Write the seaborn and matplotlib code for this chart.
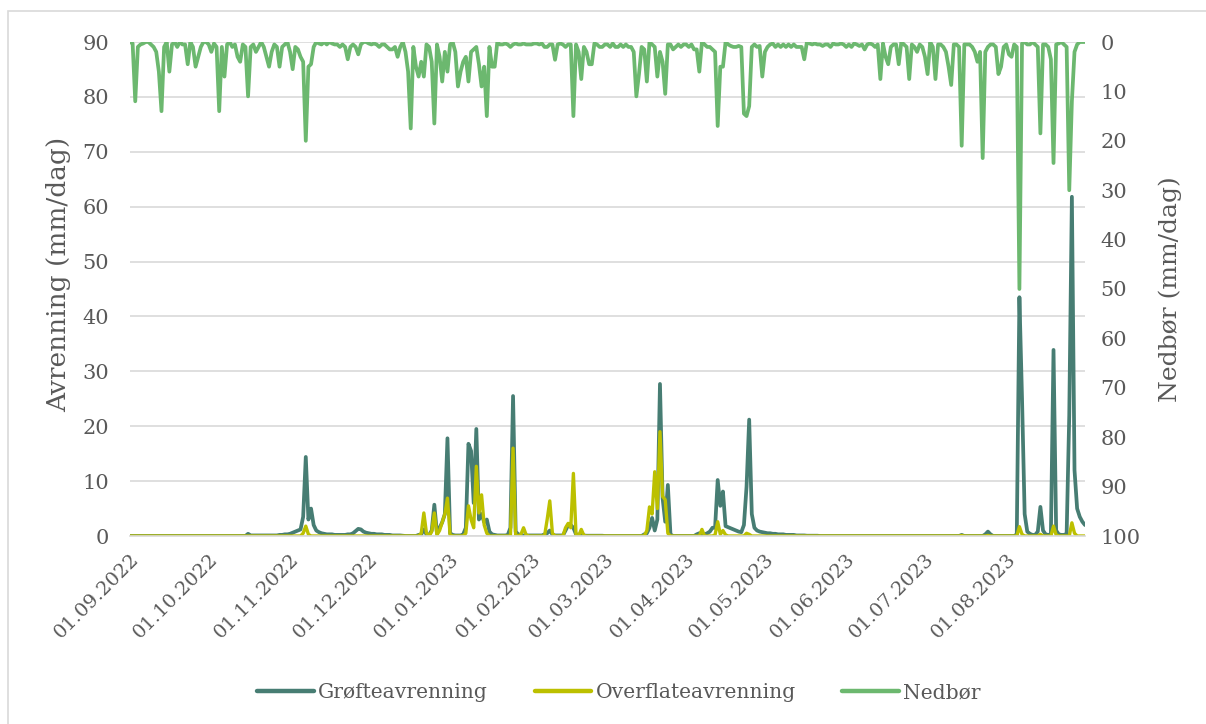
import matplotlib
matplotlib.use("Agg")
import matplotlib.pyplot as plt
import matplotlib.dates as mdates
from matplotlib.lines import Line2D
from matplotlib.patches import Rectangle
import seaborn as sns
import pandas as pd

# ---------------- data (daily values) ----------------
start_date = "2022-09-01"
month_ticks = ["2022-09-01", "2022-10-01", "2022-11-01", "2022-12-01", "2023-01-01",
               "2023-02-01", "2023-03-01", "2023-04-01", "2023-05-01", "2023-06-01",
               "2023-07-01", "2023-08-01"]

# Nedbør (mm/dag), per month
ned_sep = [0, 0.3, 12, 1, 0.5, 0.3, 0, 0, 0.5, 1, 2, 6, 14, 1, 0, 6, 0.5, 0, 1, 0,
           0.5, 0.5, 4.5, 0, 1, 5, 3, 1, 0, 0]
ned_oct = [0.5, 2, 0.3, 1, 14, 1, 7, 0.5, 0, 1, 0.5, 3, 4, 0.5, 1, 11, 1, 0.5, 2, 1,
           0, 1, 3, 5, 2, 0.5, 1, 5, 1, 0.5, 0]
ned_nov = [2, 5.5, 1, 1.5, 3, 4, 20, 5, 4.5, 1, 0, 0.3, 0.5, 0, 0.5, 0, 0.3, 0.5, 0.5, 1,
           0.5, 1, 3.5, 1, 0.5, 1, 2.5, 0.5, 0, 0]
ned_dec = [0.3, 0.5, 0.3, 0.5, 1, 0.5, 0.5, 1, 1.5, 1.5, 1, 3, 1, 0, 2, 6, 17.5, 1, 5, 7,
           4, 7, 0.5, 1, 4, 16.5, 0.5, 3, 8, 2, 6]
ned_jan = [0.5, 0, 2, 9, 6, 4, 3, 8, 2, 1.5, 1, 4.5, 9, 5, 15, 1, 5, 5, 0, 0.5,
           0.5, 0.3, 0.5, 1, 0.5, 0.3, 0.5, 0.5, 0.3, 0.5, 0.5]
ned_feb = [0.5, 0.3, 0.3, 0.5, 0.3, 1, 1, 0.5, 0.5, 3.6, 0.5, 0.3, 0.5, 1, 0.5, 0.5, 15, 0.5,
           2, 7.5, 1, 2, 4.5, 4.5, 0.3, 0.5, 1, 1]
ned_mar = [0.5, 0.5, 1, 0.3, 1, 1, 0.5, 1, 0.5, 1, 1, 2, 11, 6.5, 1, 1.5, 8, 0, 0.5, 1,
           7, 2, 4, 10.5, 0.5, 0.5, 1.5, 1, 0.5, 1, 0.5]
ned_apr = [0.5, 1, 0.5, 1.5, 1.5, 6, 0, 0.5, 1, 1, 1.5, 2, 17, 5, 5, 0, 0.5, 0.8, 1, 1,
           0.8, 1, 14.5, 15, 13, 1, 0.5, 1, 0.8, 7]
ned_may = [2, 1, 0.5, 0.3, 1, 0.5, 1, 0.5, 1, 0.5, 1, 0.5, 1, 1, 1, 3.5, 0, 0.3, 0.5, 0.3,
           0.5, 0.5, 0.8, 0.5, 0.5, 1, 0.3, 0.5, 0.5, 0.3, 0.5]
ned_jun = [1, 0.5, 1, 0.3, 0.5, 0.8, 0.5, 1.5, 0.5, 0.3, 0.5, 1, 0.5, 7.5, 0.3, 3, 4.5, 1,
           0.5, 0.5, 4.5, 0, 0.5, 1, 7.5, 0.5, 1, 2, 0.5, 1]
ned_jul = [3, 6.5, 0, 1, 7.5, 0.5, 0.5, 1, 2, 5, 8.7, 0.5, 0.5, 1, 21, 0.5, 0.5, 0.5, 1, 2,
           4, 2, 23.5, 2, 1, 0.5, 0.5, 1, 6.5, 5, 1]
ned_aug = [0.5, 2.5, 3, 0.5, 1, 50, 0.3, 0, 0.5, 0.5, 0, 0.5, 1, 18.5, 0.5, 0.5, 1, 3.5,
           24.5, 0.5, 0.3, 0, 0.5, 1, 30, 12, 2, 0.5, 0, 0, 0]

# Grøfteavrenning (mm/dag), per month
gro_sep = [0, 0, 0, 0, 0, 0, 0, 0, 0, 0, 0, 0, 0, 0, 0, 0, 0, 0, 0, 0,
           0, 0, 0, 0, 0, 0, 0, 0, 0, 0]
gro_oct = [0, 0, 0, 0, 0, 0, 0, 0, 0, 0, 0, 0, 0, 0, 0, 0.4, 0.1, 0.1, 0.1, 0.1,
           0.1, 0.1, 0.1, 0.1, 0.1, 0.1, 0.1, 0.2, 0.2, 0.3, 0.3]
gro_nov = [0.4, 0.6, 0.8, 1.0, 1.2, 3.5, 14.4, 3, 5, 2, 1, 0.7, 0.5, 0.4, 0.3, 0.3, 0.3,
           0.2, 0.2, 0.2, 0.2, 0.2, 0.3, 0.3, 0.5, 0.9, 1.3, 1.2, 0.8, 0.6]
gro_dec = [0.5, 0.4, 0.4, 0.3, 0.3, 0.3, 0.2, 0.2, 0.2, 0.1, 0.1, 0.1, 0.1, 0.05, 0,
           0, 0, 0, 0, 0.2, 0.3, 1.2, 0.3, 0.2, 1, 5.7, 0.5, 1.5, 2.5, 4, 17.8]
gro_jan = [0.5, 0.2, 0.1, 0.1, 0.1, 0.3, 1.5, 16.8, 15.5, 6, 19.5, 3, 4, 2.5, 3, 0.8,
           0.3, 0.2, 0.1, 0.1, 0.1, 0.1, 0.2, 1.5, 25.5, 0.8, 0.3, 0.2, 0.1, 0.1, 0.1]
gro_feb = [0.1, 0.1, 0.1, 0.1, 0.1, 0.3, 0.5, 1, 0.3, 0.1, 0.1, 0.1, 0.1, 1, 2, 2, 1.5,
           0.3, 0.2, 0.5, 0.1, 0.05, 0.05, 0.05, 0.05, 0.05, 0.05, 0.05]
gro_mar = [0, 0, 0, 0, 0, 0, 0, 0, 0, 0, 0, 0, 0, 0, 0, 0.3, 0.5, 1.5, 3.3, 1,
           3, 27.7, 6.9, 2.6, 9.3, 0.3, 0, 0, 0, 0, 0]
gro_apr = [0, 0, 0, 0, 0.3, 0.5, 0.3, 0.3, 0.5, 0.8, 1.5, 1.5, 10.2, 5.5, 8.1, 1.8, 1.6,
           1.4, 1.2, 1.0, 0.8, 0.7, 2, 9, 21.2, 4, 1.5, 1.0, 0.8, 0.7]
gro_may = [0.6, 0.5, 0.5, 0.4, 0.4, 0.3, 0.3, 0.3, 0.2, 0.2, 0.2, 0.2, 0.1, 0.1, 0.1, 0.1,
           0.05, 0.05, 0.05, 0.05, 0.05, 0, 0, 0, 0, 0, 0, 0, 0, 0, 0]
gro_jun = [0, 0, 0, 0, 0, 0, 0, 0, 0, 0, 0, 0, 0, 0, 0, 0, 0, 0, 0, 0,
           0, 0, 0, 0, 0, 0, 0, 0, 0, 0]
gro_jul = [0, 0, 0, 0, 0, 0, 0, 0, 0, 0, 0, 0, 0, 0, 0.2, 0, 0, 0, 0, 0,
           0, 0, 0, 0.3, 0.8, 0.3, 0, 0, 0, 0, 0]
gro_aug = [0, 0, 0, 0, 0.3, 43.5, 25, 4, 0.8, 0.4, 0.2, 0.2, 0.8, 5.3, 1, 0.3, 0.2, 0.3,
           33.9, 1, 0.3, 0.2, 0.2, 0.4, 22, 61.8, 12, 5, 3.5, 2.6, 2.0]

# Overflateavrenning (mm/dag), per month
ovf_sep = [0, 0, 0, 0, 0, 0, 0, 0, 0, 0, 0, 0, 0, 0, 0, 0, 0, 0, 0, 0,
           0, 0, 0, 0, 0, 0, 0, 0, 0, 0]
ovf_oct = [0, 0, 0, 0, 0, 0, 0, 0, 0, 0, 0, 0, 0, 0, 0, 0, 0, 0, 0, 0,
           0, 0, 0, 0, 0, 0, 0, 0, 0, 0, 0]
ovf_nov = [0, 0, 0, 0, 0, 0.5, 1.8, 0.3, 0, 0, 0, 0, 0, 0, 0, 0, 0, 0, 0, 0,
           0, 0, 0, 0, 0, 0, 0, 0, 0, 0]
ovf_dec = [0, 0, 0, 0, 0, 0, 0, 0, 0, 0, 0, 0, 0, 0, 0, 0, 0, 0, 0, 0,
           0.5, 4.2, 0.5, 0, 0.8, 4.2, 0.2, 1, 2.5, 4, 6.9]
ovf_jan = [0.2, 0, 0, 0, 0, 0, 0.5, 5.5, 3, 1.5, 12.7, 4.2, 7.5, 2, 0.5, 0, 0, 0, 0, 0,
           0, 0, 0, 0, 16, 0.2, 0, 0.3, 1.5, 0.2, 0]
ovf_feb = [0, 0, 0, 0, 0, 0, 3, 6.4, 0.5, 0, 0, 0, 0, 1.5, 2.3, 1.5, 11.4, 0.3, 0, 1.2,
           0.1, 0, 0, 0, 0, 0, 0, 0]
ovf_mar = [0, 0, 0, 0, 0, 0, 0, 0, 0, 0, 0, 0, 0, 0, 0, 0, 1, 5.3, 4, 11.7,
           5, 19, 7.2, 6.6, 0.5, 0, 0, 0, 0, 0, 0]
ovf_apr = [0, 0, 0, 0, 0, 0, 1.2, 0, 0, 0, 0, 0.2, 2.6, 0.3, 1, 0.2, 0, 0, 0, 0,
           0, 0, 0, 0.5, 0.3, 0, 0, 0, 0, 0]
ovf_may = [0, 0, 0, 0, 0, 0, 0, 0, 0, 0, 0, 0, 0, 0, 0, 0, 0, 0, 0, 0,
           0, 0, 0, 0, 0, 0, 0, 0, 0, 0, 0]
ovf_jun = [0, 0, 0, 0, 0, 0, 0, 0, 0, 0, 0, 0, 0, 0, 0, 0, 0, 0, 0, 0,
           0, 0, 0, 0, 0, 0, 0, 0, 0, 0]
ovf_jul = [0, 0, 0, 0, 0, 0, 0, 0, 0, 0, 0, 0, 0, 0, 0.1, 0, 0, 0, 0, 0,
           0, 0, 0, 0, 0.1, 0, 0, 0, 0, 0, 0]
ovf_aug = [0, 0, 0, 0, 0, 1.7, 0.3, 0, 0, 0, 0, 0, 0, 0.3, 0, 0, 0, 0, 1.8, 0.2,
           0, 0, 0, 0, 0, 2.4, 0.5, 0, 0, 0, 0]

nedbor = (ned_sep + ned_oct + ned_nov + ned_dec + ned_jan + ned_feb + ned_mar +
          ned_apr + ned_may + ned_jun + ned_jul + ned_aug)
grofte = (gro_sep + gro_oct + gro_nov + gro_dec + gro_jan + gro_feb + gro_mar +
          gro_apr + gro_may + gro_jun + gro_jul + gro_aug)
overflate = (ovf_sep + ovf_oct + ovf_nov + ovf_dec + ovf_jan + ovf_feb + ovf_mar +
             ovf_apr + ovf_may + ovf_jun + ovf_jul + ovf_aug)

df = pd.DataFrame({
    "dato": pd.date_range(start_date, periods=len(nedbor), freq="D"),
    "Grøfteavrenning": grofte,
    "Overflateavrenning": overflate,
    "Nedbør": nedbor,
})

# ---------------- style ----------------
sns.set_style("white")
plt.rcParams["font.family"] = ["DejaVu Serif", "DejaVu Sans"]
TXT = "#595959"
GRID = "#D9D9D9"
C_GRO = "#477D73"
C_OVF = "#BCC000"
C_NED = "#6CB86F"

fig = plt.figure(figsize=(12.06, 7.24), dpi=100)
ax = fig.add_axes([130 / 1206, 1 - 536 / 724, 955 / 1206, 494 / 724])
ax2 = ax.twinx()

line_kw = dict(solid_joinstyle="round", solid_capstyle="round")
sns.lineplot(data=df, x="dato", y="Grøfteavrenning", ax=ax, color=C_GRO,
             linewidth=2.7, legend=False, **line_kw)
sns.lineplot(data=df, x="dato", y="Overflateavrenning", ax=ax, color=C_OVF,
             linewidth=2.4, legend=False, **line_kw)
sns.lineplot(data=df, x="dato", y="Nedbør", ax=ax2, color=C_NED,
             linewidth=2.7, legend=False, **line_kw)

# x axis
ax.set_xlim(df["dato"].iloc[0], df["dato"].iloc[-1])
ax.set_xticks(pd.to_datetime(month_ticks))
ax.xaxis.set_major_formatter(mdates.DateFormatter("%d.%m.%Y"))
ax.tick_params(axis="x", which="major", length=6, width=1, color=GRID,
               labelsize=14, labelcolor=TXT, pad=4, direction="out")
for lbl in ax.get_xticklabels():
    lbl.set_rotation(45)
    lbl.set_ha("right")
    lbl.set_va("top")
    lbl.set_rotation_mode("anchor")
ax.set_xlabel("")

# left y axis
ax.set_ylim(0, 90)
ax.set_yticks(range(0, 91, 10))
ax.tick_params(axis="y", length=0, labelsize=15, labelcolor=TXT, pad=15)
ax.yaxis.grid(True, color=GRID, linewidth=1.2)
ax.set_axisbelow(True)
ax.set_ylabel("Avrenning (mm/dag)", fontsize=19, color=TXT)
ax.yaxis.set_label_coords(-0.062, 0.53)

# right y axis (inverted)
ax2.set_ylim(100, 0)
ax2.set_yticks(range(0, 101, 10))
ax2.tick_params(axis="y", length=0, labelsize=15, labelcolor=TXT, pad=11)
ax2.set_ylabel("Nedbør (mm/dag)", fontsize=18, color=TXT, rotation=90)
ax2.yaxis.set_label_coords(1.077, 0.5)
ax2.grid(False)

for a in (ax, ax2):
    for s in ("top", "left", "right"):
        a.spines[s].set_visible(False)
    a.spines["bottom"].set_color(GRID)
    a.spines["bottom"].set_linewidth(1.2)
ax2.spines["bottom"].set_visible(False)

# legend
handles = [Line2D([], [], color=C_GRO, lw=3.2),
           Line2D([], [], color=C_OVF, lw=3.2),
           Line2D([], [], color=C_NED, lw=3.2)]
labels = ["Grøfteavrenning", "Overflateavrenning", "Nedbør"]
leg = fig.legend(handles, labels, loc="center", bbox_to_anchor=(619 / 1206, 1 - 693 / 724),
                 ncol=3, frameon=False, fontsize=14.6, handlelength=2.8,
                 handletextpad=0.2, columnspacing=2.3)
for t in leg.get_texts():
    t.set_color(TXT)

# chart-area border (left and top visible)
fig.add_artist(Rectangle((8 / 1206, -0.1), 1.2, 1 - 11 / 724 + 0.1,
                         transform=fig.transFigure, fill=False,
                         edgecolor=GRID, linewidth=1.2))

fig.savefig("out.png", dpi=100, facecolor="white")
